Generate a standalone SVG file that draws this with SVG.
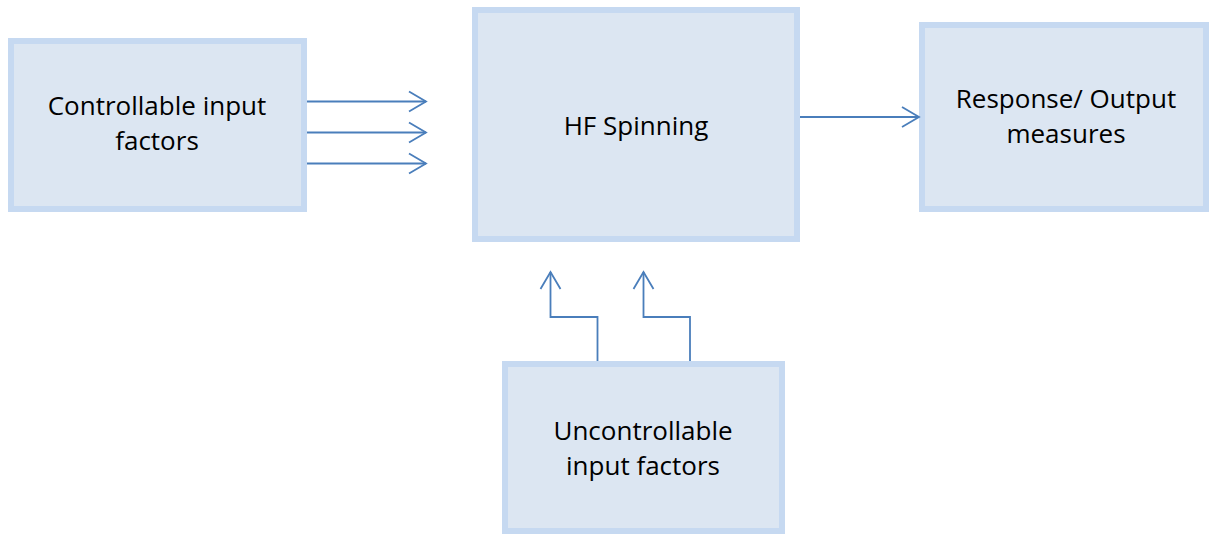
<svg xmlns="http://www.w3.org/2000/svg" width="1213" height="534" viewBox="0 0 1213 534">
  <style>
    .box { fill: #DCE6F2; stroke: #C6D9F1; stroke-width: 6; }
    .label { font-family: "Open Sans", "Liberation Sans", sans-serif; font-size: 26px; fill: #000000; text-anchor: middle; }
    .link { fill: none; stroke: #4A7EBB; stroke-width: 1.8; marker-end: url(#chevron); }
  </style>
  <defs>
    <marker id="chevron" markerUnits="userSpaceOnUse" markerWidth="24" markerHeight="24" viewBox="-20 -12 22 24" refX="0" refY="0" orient="auto">
      <path d="M-17,-10 L0,0 L-17,10" fill="none" stroke="#4A7EBB" stroke-width="1.8"/>
    </marker>
  </defs>

  <g id="controllable-inputs">
    <rect class="box" x="11" y="41" width="293" height="168"/>
    <text class="label" x="157" y="115">Controllable input</text>
    <text class="label" x="157" y="150">factors</text>
  </g>

  <g id="hf-spinning">
    <rect class="box" x="475" y="10" width="322" height="229"/>
    <text class="label" x="636" y="135">HF Spinning</text>
  </g>

  <g id="response-output">
    <rect class="box" x="922" y="25" width="284" height="184"/>
    <text class="label" x="1066" y="108">Response/ Output</text>
    <text class="label" x="1066" y="143">measures</text>
  </g>

  <g id="uncontrollable-inputs">
    <rect class="box" x="505" y="364" width="277" height="167"/>
    <text class="label" x="643" y="440">Uncontrollable</text>
    <text class="label" x="643" y="475">input factors</text>
  </g>

  <g id="connectors">
    <path class="link" d="M307,101.5 H426"/>
    <path class="link" d="M307,132.5 H426"/>
    <path class="link" d="M307,163.5 H426"/>
    <path class="link" d="M800,117 H919"/>
    <path class="link" d="M597.5,361 V317 H550.5 V272"/>
    <path class="link" d="M690,361 V317 H643.5 V272"/>
  </g>
</svg>
